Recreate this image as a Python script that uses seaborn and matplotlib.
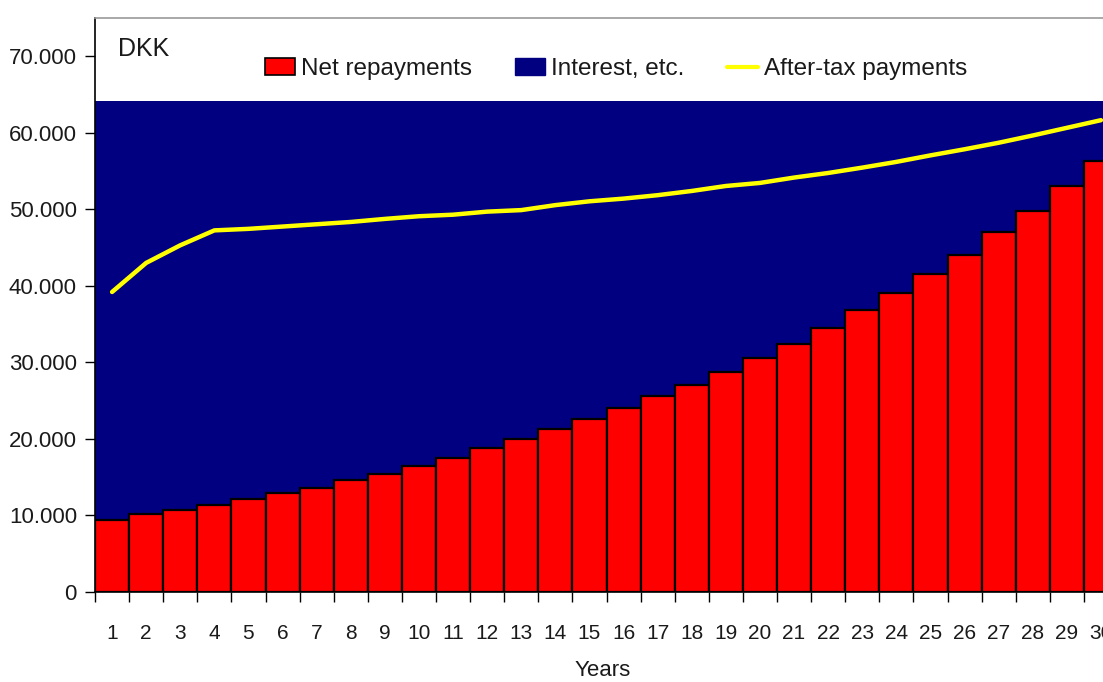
import numpy as np
import pandas as pd
import matplotlib
matplotlib.use("Agg")
import matplotlib.pyplot as plt
from matplotlib.patches import Patch
from matplotlib.lines import Line2D
from matplotlib.ticker import FuncFormatter, FixedLocator
import seaborn as sns

# ---- data ----
years = [str(i) for i in range(1, 31)]
net_repayments = [9400, 10150, 10650, 11400, 12150, 12900, 13650, 14600, 15400, 16450,
                  17550, 18850, 20050, 21300, 22600, 24050, 25550, 27050, 28800, 30550,
                  32450, 34550, 36800, 39100, 41550, 44000, 47000, 49800, 53000, 56300]
interest = [54800, 54050, 53550, 52800, 52050, 51300, 50550, 49600, 48800, 47750,
            46650, 45350, 44150, 42900, 41600, 40150, 38650, 37150, 35400, 33650,
            31750, 29650, 27400, 25100, 22650, 20200, 17200, 14400, 11200, 7900]
after_tax = [39200, 43000, 45300, 47250, 47450, 47750, 48050, 48350, 48750, 49100,
             49300, 49700, 49900, 50550, 51050, 51400, 51850, 52400, 53050, 53450,
             54150, 54750, 55450, 56200, 57050, 57850, 58700, 59650, 60650, 61650]
y_ticks = [0, 10000, 20000, 30000, 40000, 50000, 60000, 70000]

df = pd.DataFrame({"year": years, "net": net_repayments, "interest": interest,
                   "after_tax": after_tax})
df["total"] = df["net"] + df["interest"]
df["pos"] = np.arange(len(df))

sns.set_style("white")
plt.rcParams["font.family"] = ["Liberation Sans", "DejaVu Sans"]
txt = "#1a1a1a"

fig = plt.figure(figsize=(11.03, 6.82), dpi=100)
ax = fig.add_axes([95 / 1103, 90 / 682, 1023 / 1103, 574 / 682])

NAVY = "#000080"
RED = "#FF0000"
YEL = "#FFFF00"

sns.barplot(data=df, x="year", y="total", color=NAVY, width=1.0, saturation=1,
            edgecolor=NAVY, linewidth=0, ax=ax, zorder=1)
sns.barplot(data=df, x="year", y="net", color=RED, width=1.0, saturation=1,
            edgecolor="black", linewidth=1.6, ax=ax, zorder=2)
sns.lineplot(data=df, x="pos", y="after_tax", color=YEL, linewidth=3.2, ax=ax,
             zorder=3)

ax.set_xlim(-0.5, 29.5)
ax.set_ylim(0, 75000)

# ticks: major at bar edges (no labels), minor at bar centres (labels)
ax.xaxis.set_major_locator(FixedLocator(np.arange(-0.5, 30, 1.0)))
ax.xaxis.set_minor_locator(FixedLocator(df["pos"].values))
ax.xaxis.set_major_formatter(FuncFormatter(lambda v, p: ""))
ax.xaxis.set_minor_formatter(FuncFormatter(lambda v, p: years[int(round(v))]
                                           if 0 <= int(round(v)) < len(years) else ""))
ax.tick_params(axis="x", which="major", bottom=True, length=7, width=1, color="black",
               direction="out")
ax.tick_params(axis="x", which="minor", bottom=True, length=0, pad=23, labelsize=15,
               labelcolor=txt)

ax.set_yticks(y_ticks)
ax.yaxis.set_major_formatter(FuncFormatter(lambda v, p: f"{int(v):,}".replace(",", ".")))
ax.tick_params(axis="y", left=True, length=7, width=1, color="black", direction="out",
               pad=6, labelsize=16, labelcolor=txt)

ax.set_xlabel("Years", fontsize=16, color=txt)
ax.xaxis.set_label_coords((603 - 95) / 1023, (592 - 660) / 574)
ax.set_ylabel("")

for s in ["left", "bottom"]:
    ax.spines[s].set_color("black")
    ax.spines[s].set_linewidth(1.2)
ax.spines["top"].set_color("#999999")
ax.spines["top"].set_linewidth(1.2)
ax.spines["right"].set_visible(False)

ax.text((118 - 95) / 1023, (592 - 49) / 574, "DKK", transform=ax.transAxes,
        fontsize=18, color=txt, ha="left", va="center")

handles = [Patch(facecolor=RED, edgecolor="black", linewidth=1.2),
           Patch(facecolor=NAVY, edgecolor=NAVY),
           Line2D([0], [0], color=YEL, linewidth=3)]
labels = ["Net repayments", "Interest, etc.", "After-tax payments"]
ax.legend(handles, labels, loc="center left",
          bbox_to_anchor=((265 - 95) / 1023, (592 - 69) / 574),
          ncol=3, frameon=False, fontsize=17.5, handlelength=1.25, handleheight=0.65,
          handletextpad=0.25, columnspacing=1.75, borderpad=0, borderaxespad=0,
          labelcolor=txt)

fig.savefig("out.png", dpi=100)
